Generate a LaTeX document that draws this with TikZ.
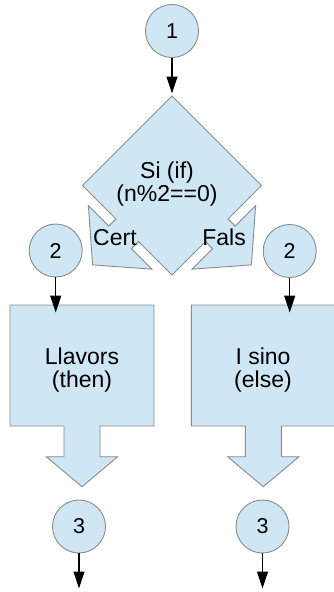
\documentclass[tikz,border=0pt]{standalone}
\usepackage{fontspec}
\setmainfont{Liberation Sans}
\usetikzlibrary{arrows.meta}
\definecolor{pastel}{HTML}{CFE7F5}
\definecolor{edge}{HTML}{8A8A8A}
\tikzset{
  shapefill/.style={fill=pastel, draw=edge, line width=0.9pt, line join=miter},
  connector/.style={circle, minimum size=53pt, inner sep=0pt, fill=pastel, draw=edge,
    line width=0.9pt, font=\fontsize{21.5}{21.5}\selectfont},
  label/.style={inner sep=0pt, align=center, font=\fontsize{23}{22.5}\selectfont},
  flow/.style={line width=1.2pt, -{Triangle[length=17pt,width=11pt]}}
}
\begin{document}
\begin{tikzpicture}[x=1pt,y=-1pt]
\useasboundingbox (0,0) rectangle (334,592);

% decision diamond with its two outgoing block arrows
\path[shapefill]
  (172,96) -- (261.5,185.5)
  -- (228.06,218.94) -- (235.13,226.01) -- (255.64,205.5)
  -- (251.4,264.9) -- (192.0,269.14) -- (212.51,248.63) -- (205.44,241.56)
  -- (172,275)
  -- (138.56,241.56) -- (131.49,248.63) -- (152.0,269.14)
  -- (92.6,264.9) -- (88.36,205.5) -- (108.87,226.01) -- (115.94,218.94)
  -- (82.5,185.5) -- cycle;
\node[label] (cond) at (167,184) {Si (if)\\(n\%2==0)};
\node[label, anchor=base west] (yes) at (93,245) {Cert};
\node[label, anchor=base east] (no) at (246,245) {Fals};
\coordinate (dtop) at (172,93.5);

% "then" box with its down arrow
\path[shapefill]
  (10,305) -- (154,305) -- (154,426) -- (100,426) -- (100,456.7) -- (117.7,456.7)
  -- (82,486.7) -- (46.3,456.7) -- (64,456.7) -- (64,426) -- (10,426) -- cycle;
\node[label] (then) at (82,370) {Llavors\\(then)};
\coordinate (thentop) at (55.7,312.5);

% "else" box with its down arrow (runs past the right edge)
\path[shapefill]
  (191.3,305) -- (345,305) -- (345,426) -- (281.3,426) -- (281.3,456.7) -- (299,456.7)
  -- (263.3,486.7) -- (227.6,456.7) -- (245.3,456.7) -- (245.3,426) -- (191.3,426) -- cycle;
\node[label] (else) at (263,370) {I sino\\(else)};
\coordinate (elsetop) at (289.7,312.5);

% connector circles
\node[connector] (c1) at (172,31) {1};
\node[connector] (c2l) at (55.7,250.5) {2};
\node[connector] (c2r) at (289.7,251) {2};
\node[connector] (c3l) at (79,526.5) {3};
\node[connector] (c3r) at (262.5,526.5) {3};
\coordinate (outl) at (79,588.5);
\coordinate (outr) at (262.5,588.5);

% flow lines
\draw[flow] (c1.south) -- (dtop);
\draw[flow] (c2l.south) -- (thentop);
\draw[flow] (c2r.south) -- (elsetop);
\draw[flow] (c3l.south) -- (outl);
\draw[flow] (c3r.south) -- (outr);
\end{tikzpicture}
\end{document}
